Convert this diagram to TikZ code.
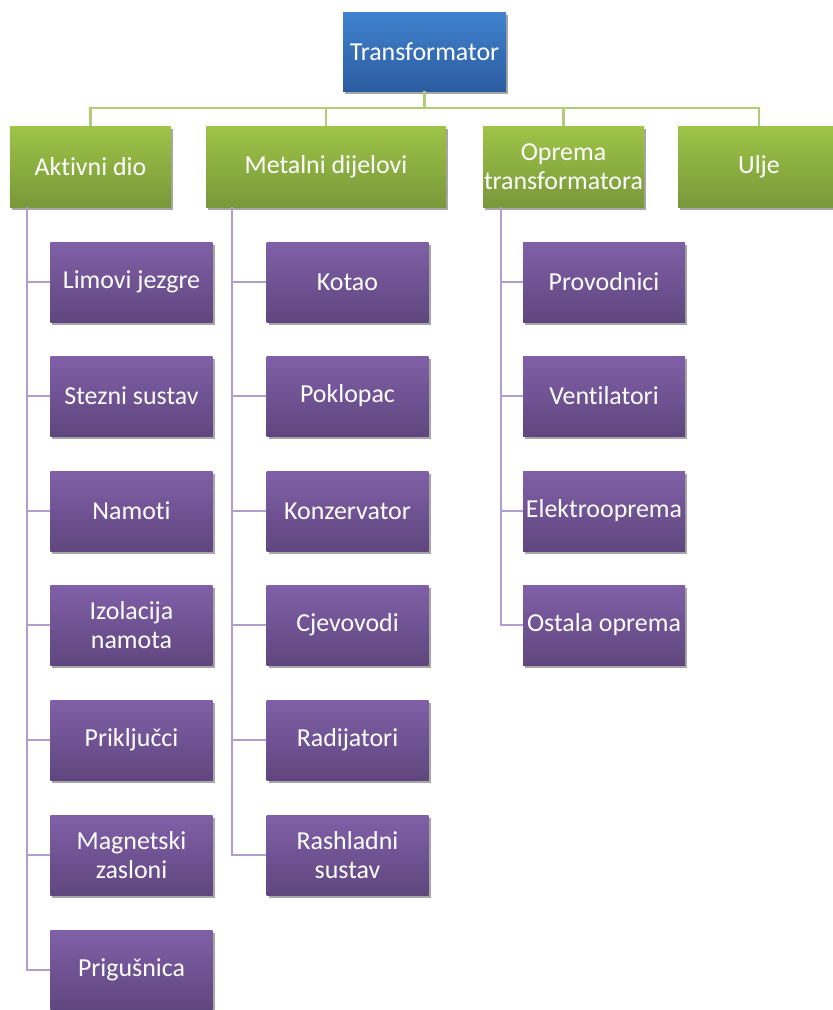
\documentclass[tikz,border=0pt]{standalone}
\usepackage{fontspec}
\setmainfont{Carlito}[Ligatures={NoCommon}]
\usetikzlibrary{shadows}
\definecolor{bluetop}{RGB}{64,130,206}
\definecolor{bluebot}{RGB}{44,92,160}
\definecolor{greentop}{RGB}{158,196,72}
\definecolor{greenbot}{RGB}{120,152,58}
\definecolor{purptop}{RGB}{128,96,168}
\definecolor{purpbot}{RGB}{96,70,126}
\definecolor{glinec}{RGB}{176,204,118}
\definecolor{plinec}{RGB}{176,158,206}
\tikzset{
  box/.style={rectangle, minimum height=80bp, inner sep=0pt, align=center, text=white,
    font=\fontsize{26}{29}\selectfont,
    drop shadow={shadow xshift=2bp, shadow yshift=-2.5bp, opacity=0.35, fill=black}},
  rootbox/.style={box, top color=bluetop, bottom color=bluebot, minimum width=163bp, minimum height=79bp},
  catbox/.style={box, top color=greentop, bottom color=greenbot, minimum height=81bp},
  itembox/.style={box, top color=purptop, bottom color=purpbot, minimum width=162bp},
  gline/.style={draw=glinec, line width=2.2bp},
  pline/.style={draw=plinec, line width=2.2bp},
}
\begin{document}
\begin{tikzpicture}[x=1bp,y=-1bp]
\useasboundingbox (0,0) rectangle (833,1010);
\clip (0,0) rectangle (833,1010);
% root
\node[rootbox] (root) at (424.5,51.5) {Transformator};
% categories
\node[catbox, minimum width=161bp] (act) at (90.5,166.5) {Aktivni dio};
\node[catbox, minimum width=240bp] (met) at (326,166.5) {Metalni dijelovi};
\node[catbox, minimum width=161bp] (opr) at (563.5,166.5) {Oprema\\transformatora};
\node[catbox, minimum width=162bp] (ulj) at (759,166.5) {Ulje};
% connectors root -> categories
\coordinate (bar) at (426,108);
\draw[gline] (root.south) -- (root.south |- bar) -| (act.north);
\draw[gline] (root.south) -- (root.south |- bar) -| (met.north);
\draw[gline] (root.south) -- (root.south |- bar) -| (opr.north);
\draw[gline] (root.south) -- (root.south |- bar) -| (ulj.north);
% Aktivni dio items
\node[itembox] (a1) at (131.5,282) {Limovi jezgre};
\node[itembox] (a2) at (131.5,396) {Stezni sustav};
\node[itembox] (a3) at (131.5,511) {Namoti};
\node[itembox] (a4) at (131.5,625) {Izolacija\\namota};
\node[itembox] (a5) at (131.5,740) {Priključci};
\node[itembox] (a6) at (131.5,855) {Magnetski\\zasloni};
\node[itembox] (a7) at (131.5,970) {Prigušnica};
% Metalni dijelovi items
\node[itembox] (m1) at (347.5,282) {Kotao};
\node[itembox] (m2) at (347.5,396) {Poklopac};
\node[itembox] (m3) at (347.5,511) {Konzervator};
\node[itembox] (m4) at (347.5,625) {Cjevovodi};
\node[itembox] (m5) at (347.5,740) {Radijatori};
\node[itembox] (m6) at (347.5,855) {Rashladni\\sustav};
% Oprema items
\node[itembox] (o1) at (604,282) {Provodnici};
\node[itembox] (o2) at (604,396) {Ventilatori};
\node[itembox] (o3) at (604,511) {Elektrooprema};
\node[itembox] (o4) at (604,625) {Ostala oprema};
% trunks
\coordinate (ta) at (act.south -| 27,0);
\coordinate (tm) at (met.south -| 232,0);
\coordinate (to) at (opr.south -| 501,0);
\foreach \c in {a1,a2,a3,a4,a5,a6,a7} \draw[pline] (ta) |- (\c.west);
\foreach \c in {m1,m2,m3,m4,m5,m6} \draw[pline] (tm) |- (\c.west);
\foreach \c in {o1,o2,o3,o4} \draw[pline] (to) |- (\c.west);
\end{tikzpicture}
\end{document}
